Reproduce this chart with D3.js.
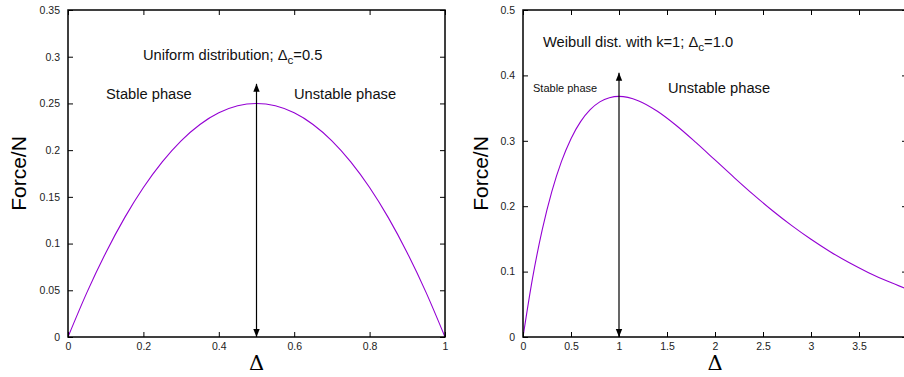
<!DOCTYPE html>
<html><head><meta charset="utf-8">
<script src="https://cdn.jsdelivr.net/npm/d3@7"></script>
<style>
body{margin:0;background:#fff;}
svg{display:block;font-family:"Liberation Sans",Arial,sans-serif;}
</style></head><body>
<svg id="c" width="904" height="377"></svg>
<script>
// Left panel: uniform distribution
const leftX = [0,0.05,0.1,0.15,0.2,0.25,0.3,0.35,0.4,0.45,0.5,0.55,0.6,0.65,0.7,0.75,0.8,0.85,0.9,0.95,1];
const leftF = [0,0.0475,0.09,0.1275,0.16,0.1875,0.21,0.2275,0.24,0.2475,0.25,0.2475,0.24,0.2275,0.21,0.1875,0.16,0.1275,0.09,0.0475,0];
const leftXTicks = [0,0.2,0.4,0.6,0.8,1];
const leftXTickLabels = ["0","0.2","0.4","0.6","0.8","1"];
const leftYTicks = [0,0.05,0.1,0.15,0.2,0.25,0.3,0.35];
const leftYTickLabels = ["0","0.05","0.1","0.15","0.2","0.25","0.3","0.35"];
// Right panel: Weibull k=1
const rightX = [0,0.1,0.2,0.3,0.4,0.5,0.6,0.7,0.8,0.9,1.0,1.2,1.4,1.6,1.8,2.0,2.2,2.4,2.6,2.8,3.0,3.2,3.4,3.6,3.8,4.0];
const rightF = [0,0.0905,0.1637,0.2222,0.2681,0.3033,0.3293,0.3476,0.3595,0.3659,0.3679,0.3614,0.3452,0.3230,0.2975,0.2707,0.2438,0.2177,0.1931,0.1703,0.1494,0.1304,0.1135,0.0984,0.0851,0.0733];
const rightXTicks = [0,0.5,1,1.5,2,2.5,3,3.5];
const rightXTickLabels = ["0","0.5","1","1.5","2","2.5","3","3.5"];
const rightYTicks = [0,0.1,0.2,0.3,0.4,0.5];
const rightYTickLabels = ["0","0.1","0.2","0.3","0.4","0.5"];

const svg = d3.select("#c");
const defs = svg.append("defs");
defs.append("marker").attr("id","ah").attr("viewBox","0 0 10 10").attr("refX",10).attr("refY",5)
  .attr("markerWidth",8).attr("markerHeight",8).attr("markerUnits","userSpaceOnUse").attr("orient","auto-start-reverse")
  .append("path").attr("d","M0,1 L10,5 L0,9 Z").attr("fill","#000");

function panel(o){
  const g = svg.append("g");
  const x = d3.scaleLinear().domain(o.xd).range([o.l,o.r]);
  const y = d3.scaleLinear().domain(o.yd).range([o.b,o.t]);
  const clipId = "clip"+o.id;
  defs.append("clipPath").attr("id",clipId).append("rect").attr("x",o.l).attr("y",o.t).attr("width",o.r-o.l).attr("height",o.b-o.t);
  g.append("path").datum(o.xs.map((v,i)=>[v,o.ys[i]]))
    .attr("clip-path","url(#"+clipId+")")
    .attr("d",d3.line().x(d=>x(d[0])).y(d=>y(d[1])).curve(d3.curveMonotoneX))
    .attr("fill","none").attr("stroke","#9400d3").attr("stroke-width",1.1);
  const tl=5;
  const ax = d3.axisBottom(x).tickValues(o.xt).tickFormat((d,i)=>o.xtl[i]).tickSize(-tl).tickPadding(6);
  const gx = g.append("g").attr("transform",`translate(0,${o.b})`).call(ax);
  const ay = d3.axisLeft(y).tickValues(o.yt).tickFormat((d,i)=>o.ytl[i]).tickSize(-tl).tickPadding(8);
  const gy = g.append("g").attr("transform",`translate(${o.l},0)`).call(ay);
  const axT = d3.axisTop(x).tickValues(o.xt).tickFormat("").tickSize(-tl);
  const gt = g.append("g").attr("transform",`translate(0,${o.t})`).call(axT);
  const ayR = d3.axisRight(y).tickValues(o.yt).tickFormat("").tickSize(-tl);
  const gr = g.append("g").attr("transform",`translate(${o.r},0)`).call(ayR);
  [gx,gy,gt,gr].forEach(a=>{
    a.select(".domain").remove();
    a.selectAll("line").attr("stroke","#000").attr("stroke-width",1);
    a.selectAll("text").attr("fill","#222").style("font-size","10.5px").style("font-family","'Liberation Sans',Arial,sans-serif");
  });
  g.append("rect").attr("x",o.l).attr("y",o.t).attr("width",o.r-o.l).attr("height",o.b-o.t)
    .attr("fill","none").attr("stroke","#000").attr("stroke-width",1.5);
  g.append("line").attr("x1",x(o.ax)).attr("x2",x(o.ax)).attr("y1",y(0)).attr("y2",y(o.ay))
    .attr("stroke","#000").attr("stroke-width",1.2)
    .attr("marker-start","url(#ah)").attr("marker-end","url(#ah)");
  g.append("text").attr("transform",`translate(${o.ylx},${(o.t+o.b)/2}) rotate(-90)`)
    .attr("text-anchor","middle").attr("dy","0.35em").style("font-size","21px").text("Force/N");
  g.append("text").attr("x",(o.l+o.r)/2).attr("y",370).attr("text-anchor","middle")
    .style("font-size","21px").style("font-family","'DejaVu Serif','Liberation Serif',serif").text("\u0394");
  o.notes.forEach(n=>{
    const t = g.append("text").attr("x",n.x).attr("y",n.y).style("font-size",n.s+"px").attr("fill","#111");
    if(n.sub){
      t.append("tspan").text(n.pre);
      t.append("tspan").text("\u0394");
      t.append("tspan").attr("dy",4).style("font-size",(n.s-3)+"px").text("c");
      t.append("tspan").attr("dy",-4).text(n.post);
    } else t.text(n.t);
  });
}

panel({id:"L",l:68,r:445,t:10,b:337,xd:[0,1],yd:[0,0.35],xs:leftX,ys:leftF,
  xt:leftXTicks,xtl:leftXTickLabels,yt:leftYTicks,ytl:leftYTickLabels,ax:0.5,ay:0.271,ylx:19,
  notes:[{sub:true,pre:"Uniform distribution; ",post:"=0.5",x:143,y:60,s:14.7},
         {t:"Stable phase",x:106,y:99,s:14.7},{t:"Unstable phase",x:294,y:99,s:14.7}]});
panel({id:"R",l:523,r:907,t:10,b:337,xd:[0,4],yd:[0,0.5],xs:rightX,ys:rightF,
  xt:rightXTicks,xtl:rightXTickLabels,yt:rightYTicks,ytl:rightYTickLabels,ax:1,ay:0.404,ylx:481,
  notes:[{sub:true,pre:"Weibull dist. with k=1; ",post:"=1.0",x:543,y:47,s:14.7},
         {t:"Stable phase",x:533,y:92,s:11},{t:"Unstable phase",x:668,y:93,s:14.7}]});
</script></body></html>
